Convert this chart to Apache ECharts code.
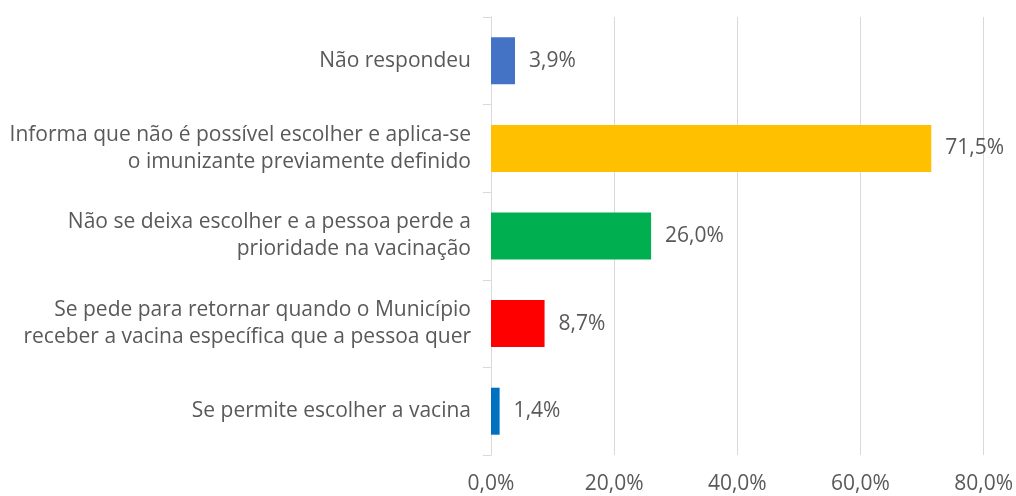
<!DOCTYPE html>
<html>
<head>
<meta charset="utf-8">
<script src="https://cdn.jsdelivr.net/npm/echarts@6/dist/echarts.min.js"></script>
<style>
  html, body { margin: 0; padding: 0; background: #fff; }
  #chart { width: 1016px; height: 496px; }
</style>
</head>
<body>
<div id="chart"></div>
<script>
// categories top to bottom
const categories = [
  'Não respondeu',
  'Informa que não é possível escolher e aplica-se\no imunizante previamente definido',
  'Não se deixa escolher e a pessoa perde a\nprioridade na vacinação',
  'Se pede para retornar quando o Município\nreceber a vacina específica que a pessoa quer',
  'Se permite escolher a vacina'
];
const values = [3.9, 71.5, 26.0, 8.7, 1.4];
const barColors = ['#4472C4', '#FFC000', '#00B050', '#FF0000', '#0070C0'];
const xTicks = [0, 20, 40, 60, 80];

const fmt = (v) => v.toFixed(1).replace('.', ',') + '%';
const font = 'Open Sans';
const fs = 21;

const chart = echarts.init(document.getElementById('chart'));
chart.setOption({
  animation: false,
  grid: { left: 491, right: 31, top: 17, bottom: 41, containLabel: false },
  xAxis: {
    type: 'value',
    min: xTicks[0],
    max: xTicks[xTicks.length - 1],
    interval: 20,
    axisLine: { show: false },
    axisTick: { show: false },
    splitLine: { lineStyle: { color: '#d9d9d9', width: 1 } },
    axisLabel: {
      color: '#595959', fontSize: fs, fontFamily: font, margin: 19,
      formatter: (v) => fmt(v)
    }
  },
  yAxis: {
    type: 'category',
    inverse: true,
    data: categories,
    axisLine: { show: true, lineStyle: { color: '#d9d9d9' } },
    axisTick: { show: true, length: 8, lineStyle: { color: '#d9d9d9' } },
    axisLabel: {
      color: '#595959', fontSize: fs, fontFamily: font, margin: 20,
      lineHeight: 27, align: 'right'
    }
  },
  series: [{
    type: 'bar',
    barWidth: 47,
    data: values.map((v, i) => ({ value: v, itemStyle: { color: barColors[i] } })),
    label: {
      show: true, position: 'right', distance: 14,
      color: '#595959', fontSize: fs, fontFamily: font,
      formatter: (p) => fmt(p.value)
    }
  }]
});
</script>
</body>
</html>
